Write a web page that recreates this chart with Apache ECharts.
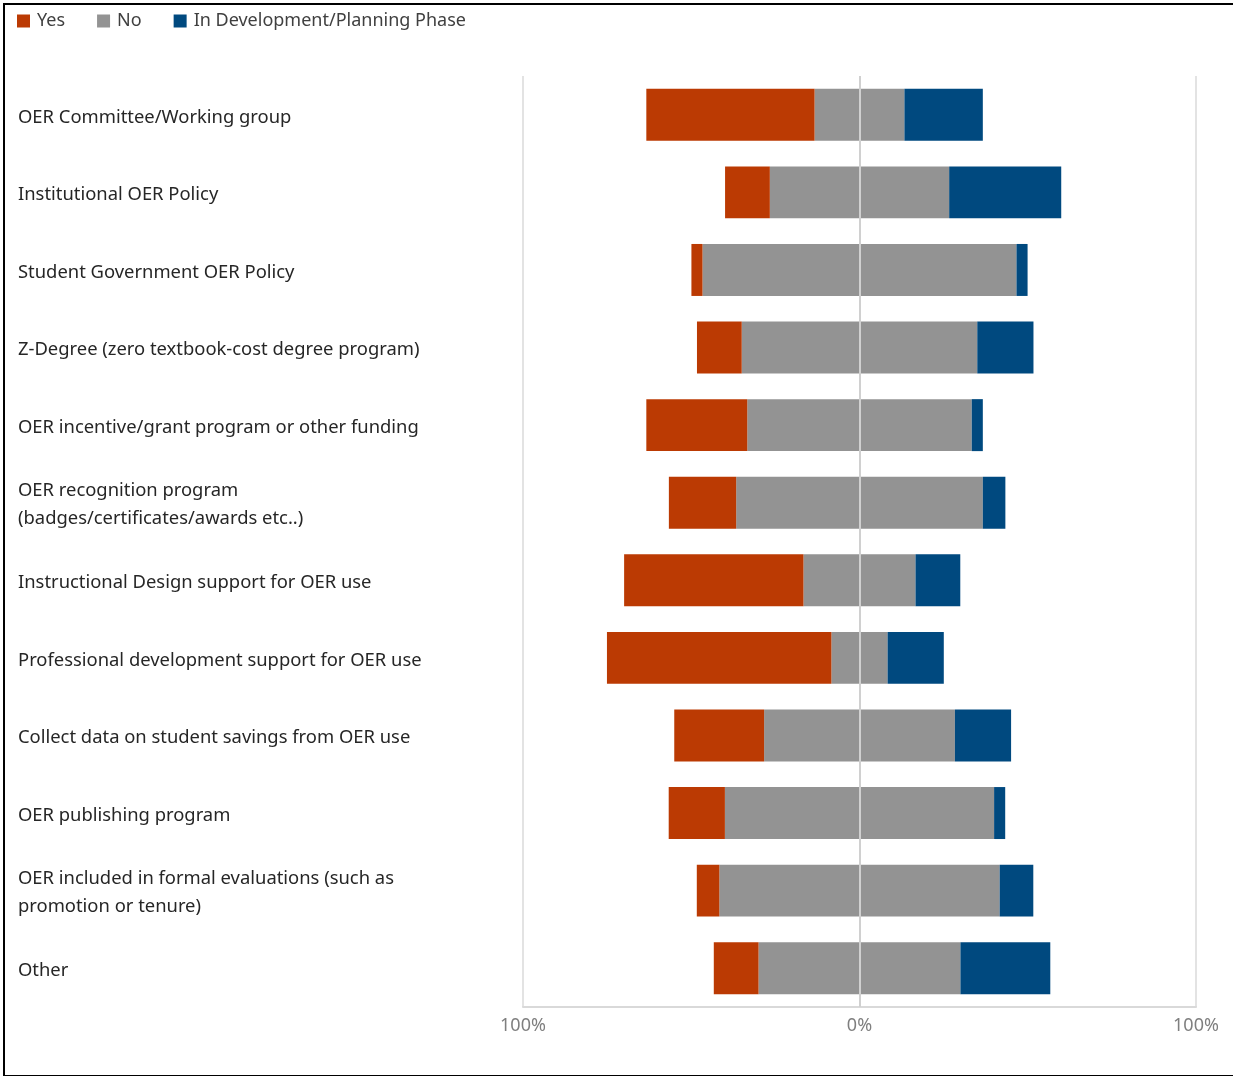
<!DOCTYPE html>
<html>
<head>
<meta charset="utf-8">
<script src="https://cdn.jsdelivr.net/npm/echarts@6/dist/echarts.min.js"></script>
<style>
html,body{margin:0;padding:0;background:#fff;}
#chart{position:absolute;left:0;top:0;width:1233px;height:1076px;}
#frame{position:absolute;left:3px;top:3px;width:1240px;height:1070px;border-top:2px solid #000;border-left:2px solid #000;border-bottom:2px solid #000;pointer-events:none;}
</style>
</head>
<body>
<div id="chart"></div>
<div id="frame"></div>
<script>
const categories = [
  'OER Committee/Working group',
  'Institutional OER Policy',
  'Student Government OER Policy',
  'Z-Degree (zero textbook-cost degree program)',
  'OER incentive/grant program or other funding',
  'OER recognition program\n(badges/certificates/awards etc..)',
  'Instructional Design support for OER use',
  'Professional development support for OER use',
  'Collect data on student savings from OER use',
  'OER publishing program',
  'OER included in formal evaluations (such as\npromotion or tenure)',
  'Other'
];
const yesValues = [50.0, 13.3, 3.3, 13.3, 30.0, 20.0, 53.3, 66.7, 26.7, 16.7, 6.7, 13.3];
const noValues  = [26.7, 53.3, 93.3, 70.0, 66.7, 73.3, 33.3, 16.7, 56.7, 80.0, 83.3, 60.0];
const devValues = [23.3, 33.3, 3.3, 16.7, 3.3, 6.7, 13.3, 16.7, 16.7, 3.3, 10.0, 26.7];
const tickLabels = {'-100': '100%', '0': '0%', '100': '100%'};

const seriesNames = ['Yes', 'No', 'In Development/Planning Phase'];
const colors = ['#bb3a03', '#939393', '#00497f'];

const chart = echarts.init(document.getElementById('chart'), null, {renderer: 'canvas'});
const FONT = '"Noto Sans", "Open Sans", sans-serif';

const barBase = {
  type: 'bar',
  stack: 'total',
  barCategoryGap: '33%',
  silent: true
};

chart.setOption({
  animation: false,
  color: colors,
  legend: {
    left: 12,
    top: 7,
    itemWidth: 13,
    itemHeight: 13,
    itemGap: 32,
    icon: 'rect',
    data: seriesNames,
    textStyle: {fontFamily: FONT, fontSize: 18, color: '#404040', padding: [0, 0, 0, 2]}
  },
  grid: {left: 523, right: 37, top: 76, bottom: 69, containLabel: false},
  xAxis: {
    type: 'value',
    min: -100,
    max: 100,
    interval: 100,
    axisLine: {show: true, lineStyle: {color: '#d9d9d9', width: 2}},
    axisTick: {show: false},
    splitLine: {show: true, lineStyle: {color: '#e3e3e3', width: 2}},
    axisLabel: {
      margin: 10,
      fontFamily: FONT,
      fontSize: 18,
      color: '#7f7f7f',
      formatter: v => tickLabels[String(v)]
    }
  },
  yAxis: {
    type: 'category',
    inverse: true,
    data: categories,
    axisLine: {show: false},
    axisTick: {show: false},
    axisLabel: {
      margin: 505,
      align: 'left',
      fontFamily: FONT,
      fontSize: 18.4,
      lineHeight: 28,
      color: '#262626',
      formatter: v => '{s|}\n' + v.split('\n').map(l => '{t|' + l + '}').join('\n'),
      rich: {
        s: {height: 5, lineHeight: 5, fontSize: 1},
        t: {fontFamily: FONT, fontSize: 18.4, lineHeight: 28, color: '#262626'}
      }
    }
  },
  series: [
    Object.assign({}, barBase, {
      name: 'No',
      data: noValues.map(v => -v / 2),
      itemStyle: {color: colors[1]}
    }),
    Object.assign({}, barBase, {
      name: 'No',
      data: noValues.map(v => v / 2),
      itemStyle: {color: colors[1]}
    }),
    Object.assign({}, barBase, {
      name: 'Yes',
      data: yesValues.map(v => -v),
      itemStyle: {color: colors[0]}
    }),
    Object.assign({}, barBase, {
      name: 'In Development/Planning Phase',
      data: devValues,
      itemStyle: {color: colors[2]},
      markLine: {
        silent: true,
        symbol: 'none',
        label: {show: false},
        z: 10,
        lineStyle: {color: '#d0d0d0', width: 2, type: 'solid'},
        data: [{xAxis: 0}]
      }
    })
  ]
});
</script>
</body>
</html>
